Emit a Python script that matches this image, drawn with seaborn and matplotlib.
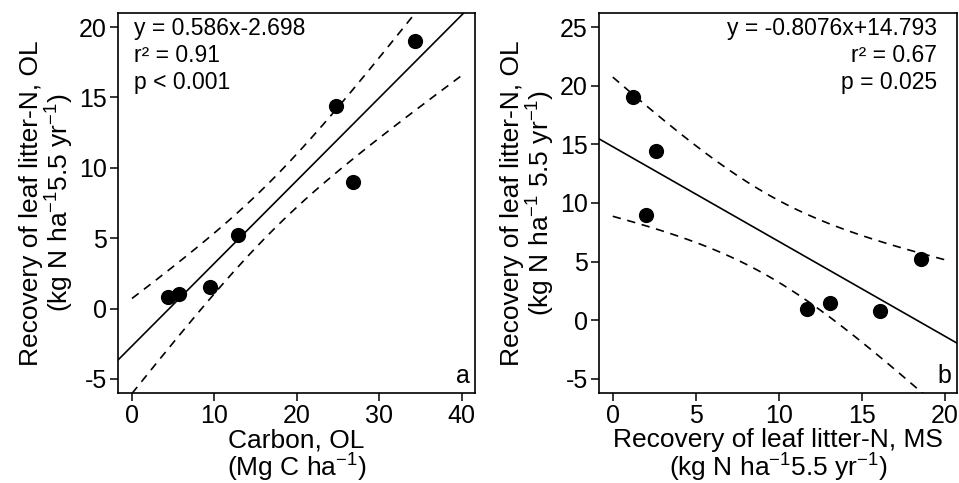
import numpy as np
import pandas as pd
import matplotlib
matplotlib.use("Agg")
import matplotlib.pyplot as plt
import seaborn as sns

# data
carbon_ol = [4.4, 5.7, 9.5, 12.8, 24.7, 26.8, 34.3]
recovery_ms = [16.1, 11.7, 13.1, 18.6, 2.6, 2.0, 1.2]
recovery_ol = [0.8, 1.0, 1.5, 5.2, 14.4, 9.0, 19.0]

stats_a = ["y = 0.586x-2.698", "r² = 0.91", "p < 0.001"]
stats_b = ["y = -0.8076x+14.793", "r² = 0.67", "p = 0.025"]

df = pd.DataFrame({"carbon": carbon_ol, "ms": recovery_ms, "ol": recovery_ol})

sns.set_style("ticks")
plt.rcParams["font.family"] = ["Liberation Sans", "DejaVu Sans"]
plt.rcParams["mathtext.fontset"] = "custom"
plt.rcParams["mathtext.rm"] = "Liberation Sans"
plt.rcParams["mathtext.it"] = "Liberation Sans"
plt.rcParams["axes.unicode_minus"] = False
plt.rcParams["text.color"] = "black"
plt.rcParams["axes.labelcolor"] = "black"
plt.rcParams["xtick.color"] = "black"
plt.rcParams["ytick.color"] = "black"

T90 = 2.015  # t(0.95, df=5) -> 90% confidence band


def fit_band(x, y, xs):
    x = np.asarray(x, float)
    y = np.asarray(y, float)
    b, a = np.polyfit(x, y, 1)
    res = y - (a + b * x)
    s = np.sqrt((res ** 2).sum() / (len(x) - 2))
    sxx = ((x - x.mean()) ** 2).sum()
    se = s * np.sqrt(1 / len(x) + (xs - x.mean()) ** 2 / sxx)
    yhat = a + b * xs
    return a, b, yhat - T90 * se, yhat + T90 * se


fig = plt.figure(figsize=(9.59, 4.83), dpi=100)
ax1 = fig.add_axes([118 / 959, 1 - 393 / 483, 357 / 959, 380 / 483])
ax2 = fig.add_axes([599 / 959, 1 - 393 / 483, 358 / 959, 380 / 483])

panels = [
    (ax1, "carbon", (-1.7, 41.6), (-6.0, 21.0), [0, 10, 20, 30, 40], [-5, 0, 5, 10, 15, 20],
     "Carbon, OL\n(Mg C ha$^{-1}$)",
     "Recovery of leaf litter-N, OL\n(kg N ha$^{-1}$5.5 yr$^{-1}$)", (0, 40), stats_a, "a"),
    (ax2, "ms", (-0.83, 20.75), (-6.2, 26.2), [0, 5, 10, 15, 20], [-5, 0, 5, 10, 15, 20, 25],
     "Recovery of leaf litter-N, MS\n(kg N ha$^{-1}$5.5 yr$^{-1}$)",
     "Recovery of leaf litter-N, OL\n(kg N ha$^{-1}$ 5.5 yr$^{-1}$)", (0, 20), stats_b, "b"),
]

for ax, xcol, xlim, ylim, xt, yt, xlab, ylab, band_rng, stats, tag in panels:
    ax.set_xlim(xlim)
    ax.set_ylim(ylim)
    xs_band = np.linspace(band_rng[0], band_rng[1], 200)
    a, b, lo, hi = fit_band(df[xcol], df["ol"], xs_band)
    xs_line = np.array(xlim)
    ax.plot(xs_line, a + b * xs_line, color="black", lw=1.2)
    ax.plot(xs_band, lo, color="black", lw=1.2, ls=(0, (5, 4)))
    ax.plot(xs_band, hi, color="black", lw=1.2, ls=(0, (5, 4)))
    sns.scatterplot(data=df, x=xcol, y="ol", ax=ax, color="black", s=120,
                    edgecolor="black", linewidth=0, zorder=5)
    ax.set_xticks(xt)
    ax.set_yticks(yt)
    ax.tick_params(labelsize=18, length=6, width=1.1, color="black", labelcolor="black", pad=2)
    ax.set_xlabel(xlab, fontsize=19, linespacing=1.0, labelpad=0)
    ax.set_ylabel(ylab, fontsize=19, linespacing=1.05, labelpad=2)
    for sp in ax.spines.values():
        sp.set_linewidth(1.2)
        sp.set_color("black")
    if tag == "a":
        for i, t in enumerate(stats):
            ax.text(0.045, 0.99 - i * 0.071, t, transform=ax.transAxes,
                    ha="left", va="top", fontsize=16.5)
    else:
        for i, t in enumerate(stats):
            ax.text(0.945, 0.99 - i * 0.071, t, transform=ax.transAxes,
                    ha="right", va="top", fontsize=16.5)
    ax.text(0.985, 0.012, tag, transform=ax.transAxes, ha="right", va="bottom", fontsize=18)

fig.savefig("out.png", dpi=100)
